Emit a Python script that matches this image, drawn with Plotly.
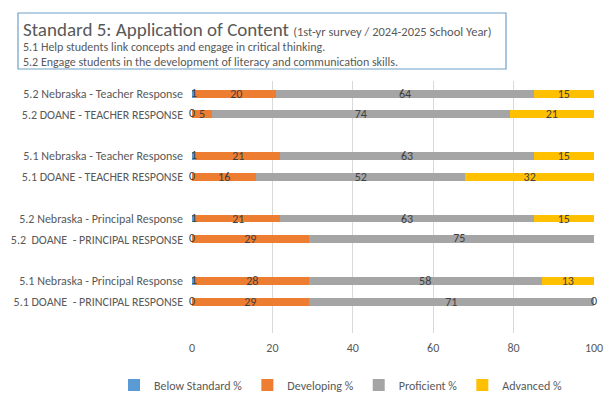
import plotly.graph_objects as go

# Categories bottom-to-top (blank entries are spacer rows)
categories = [
    "\u200b",
    "5.1 DOANE\u00a0 - PRINCIPAL RESPONSE",
    "5.1 Nebraska - Principal Response",
    "\u200b\u200b",
    "5.2\u00a0 DOANE\u00a0 - PRINCIPAL RESPONSE",
    "5.2 Nebraska - Principal Response",
    "\u200b\u200b\u200b",
    "5.1 DOANE - TEACHER RESPONSE",
    "5.1 Nebraska - Teacher Response",
    "\u200b\u200b\u200b\u200b",
    "5.2 DOANE - TEACHER RESPONSE",
    "5.2 Nebraska - Teacher Response",
]
below_standard = [None, 0, 1, None, 0, 1, None, 0, 1, None, 0, 1]
developing     = [None, 29, 28, None, 29, 21, None, 16, 21, None, 5, 20]
proficient     = [None, 71, 58, None, 75, 63, None, 52, 63, None, 74, 64]
advanced       = [None, 0, 13, None, None, 15, None, 32, 15, None, 21, 15]
x_ticks = [0, 20, 40, 60, 80, 100]

series_names = ["Below Standard %", "Developing %", "Proficient %", "Advanced %"]
series_values = [below_standard, developing, proficient, advanced]
colors = ["#5B9BD5", "#ED7D31", "#A5A5A5", "#FFC000"]

FONT = "Calibri, Carlito, Lato, sans-serif"
TXT = "#595959"
LBL = "#404040"
SMALL = 3    # values below this are labelled with a text trace instead of in-bar text
XMAX = 100

fig = go.Figure()
base = [0 if v is not None else None for v in below_standard]
ext_x, ext_y, ext_t = [], [], []
for name, vals, col in zip(series_names, series_values, colors):
    inbar = []
    for i, v in enumerate(vals):
        if v is None or base[i] is None:
            inbar.append("")
        elif v < SMALL or base[i] + v > XMAX:
            inbar.append("")
            ext_x.append(base[i] + v / 2)
            ext_y.append(categories[i])
            ext_t.append(str(v))
        else:
            inbar.append(str(v))
    fig.add_trace(go.Bar(
        name=name, y=categories, x=vals, orientation="h",
        marker=dict(color=col, line=dict(width=0)),
        text=inbar,
        textposition="inside", insidetextanchor="middle", textangle=0,
        textfont=dict(color=LBL, size=12, family=FONT),
        constraintext="none",
        hoverinfo="x+y+name",
    ))
    base = [(b + v) if (b is not None and v is not None) else b for b, v in zip(base, vals)]

fig.add_trace(go.Scatter(
    x=ext_x, y=ext_y, text=ext_t, mode="text", textposition="middle center",
    textfont=dict(color=LBL, size=12, family=FONT), showlegend=False,
    cliponaxis=False, hoverinfo="skip",
))

W, H = 402.0, 252.0
def px(x):
    return (x - 192) / W
def py(y):
    return (333 - y) / H

fig.update_layout(
    barmode="stack", bargap=0.62,
    width=616, height=404,
    margin=dict(l=192, r=22, t=81, b=71, autoexpand=False),
    paper_bgcolor="white", plot_bgcolor="white",
    font=dict(family=FONT, color=TXT, size=12),
    uniformtext=dict(minsize=12, mode="show"),
    showlegend=True,
    legend=dict(orientation="h", x=px(114), xanchor="left",
                y=py(385), yanchor="middle",
                font=dict(size=12, color=TXT, family=FONT), traceorder="normal",
                itemwidth=30, tracegroupgap=0),
    xaxis=dict(range=[0, XMAX], tickvals=x_ticks, showgrid=True,
               gridcolor="#D9D9D9", gridwidth=1, zeroline=False, showline=False,
               ticks="", ticklabelstandoff=6, tickfont=dict(size=12, color=TXT), fixedrange=True),
    yaxis=dict(type="category", categoryorder="array", categoryarray=categories,
               showgrid=False, zeroline=False, showline=False, ticks="",
               ticklabelstandoff=8, tickfont=dict(size=12, color=TXT)),
)

# Title box
fig.add_shape(type="rect", xref="paper", yref="paper",
              x0=px(18), x1=px(506), y0=py(69), y1=py(13),
              line=dict(color="#6FA0C8", width=1.2), fillcolor="rgba(0,0,0,0)")

fig.add_annotation(xref="paper", yref="paper", x=px(21), y=py(29), xanchor="left", yanchor="middle",
                   showarrow=False, align="left",
                   text="Standard 5: Application of Content <span style='font-size:12.5px'>(1st-yr survey / 2024-2025 School Year)</span>",
                   font=dict(size=19, color=TXT, family=FONT))
fig.add_annotation(xref="paper", yref="paper", x=px(21), y=py(46.5), xanchor="left", yanchor="middle",
                   showarrow=False, align="left",
                   text="5.1 Help students link concepts and engage in critical thinking.",
                   font=dict(size=12, color=TXT, family=FONT))
fig.add_annotation(xref="paper", yref="paper", x=px(21), y=py(61.5), xanchor="left", yanchor="middle",
                   showarrow=False, align="left",
                   text="5.2 Engage students in the development of literacy and communication skills.",
                   font=dict(size=12, color=TXT, family=FONT))

fig.write_html("out.html")
